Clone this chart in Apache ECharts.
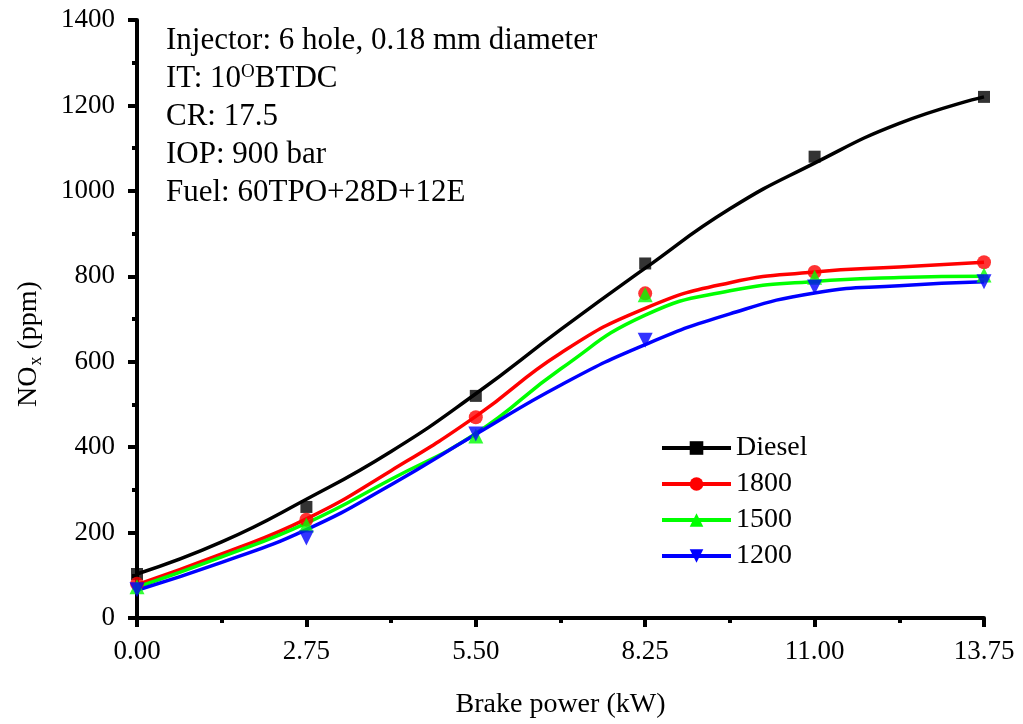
<!DOCTYPE html>
<html>
<head>
<meta charset="utf-8">
<script src="https://cdn.jsdelivr.net/npm/echarts@6/dist/echarts.min.js"></script>
<style>
html,body{margin:0;padding:0;background:#fff;}
#chart{width:1023px;height:724px;}
</style>
</head>
<body>
<div id="chart"></div>
<script>
// Measured points
const xPoints = [0, 2.75, 5.5, 8.25, 11, 13.75];
const dieselPts = [103, 260, 520, 830, 1080, 1220];
const pts1800 = [80, 230, 470, 760, 810, 833];
const pts1500 = [73, 218, 426, 757, 798, 803];
const pts1200 = [66, 187, 431, 650, 775, 787];

// Fitted curves
const xCurve = [0, 1.375, 2.75, 4.125, 5.5, 6.875, 8.25, 9.625, 11, 12.375, 13.75];
const dieselFit = [103, 178, 278, 390, 525, 675, 819, 958, 1065, 1158, 1220];
const fit1800 = [78, 150, 232, 345, 472, 620, 725, 785, 810, 822, 833];
const fit1500 = [72, 143, 222, 325, 432, 583, 709, 766, 788, 797, 800];
const fit1200 = [65, 130, 207, 312, 430, 545, 640, 712, 761, 778, 787];

const xTicks = [0, 2.75, 5.5, 8.25, 11, 13.75];
const legendNames = ['Diesel', '1800', '1500', '1200'];
const annotations = ['Injector: 6 hole, 0.18 mm diameter', 'IT: 10', 'CR: 17.5', 'IOP: 900 bar', 'Fuel: 60TPO+28D+12E'];

const FONT = '"Liberation Serif", "Times New Roman", serif';
const colors = ['#000000', '#ff0000', '#00ff00', '#0000ff'];
const symbols = ['rect', 'circle', 'triangle', 'triangle'];
const rotates = [0, 0, 0, 180];
const sizes = [12, 14, 15, 15];
const fits = [dieselFit, fit1800, fit1500, fit1200];
const pts = [dieselPts, pts1800, pts1500, pts1200];

const zip = (xs, ys) => xs.map((x, i) => [x, ys[i]]);

const series = [];
legendNames.forEach((name, i) => {
  series.push({
    name: name,
    type: 'line',
    data: zip(xCurve, fits[i]),
    smooth: true,
    showSymbol: false,
    symbol: symbols[i],
    symbolRotate: rotates[i],
    symbolSize: sizes[i],
    lineStyle: {color: colors[i], width: 3.5},
    itemStyle: {color: colors[i]},
    z: 2
  });
});
legendNames.forEach((name, i) => {
  series.push({
    name: name + ' data',
    type: 'scatter',
    data: zip(xPoints, pts[i]),
    symbol: symbols[i],
    symbolRotate: rotates[i],
    symbolSize: sizes[i],
    itemStyle: {color: colors[i]},
    z: 3
  });
});

const textStyleBase = {fontFamily: FONT, fontSize: 31, fill: '#000'};

const chart = echarts.init(document.getElementById('chart'));
chart.setOption({
  animation: false,
  backgroundColor: '#fff',
  grid: {left: 137, right: 39, top: 20, bottom: 106},
  legend: {
    data: legendNames,
    orient: 'vertical',
    left: 655,
    top: 429,
    itemWidth: 69,
    itemHeight: 17,
    itemGap: 8,
    lineStyle: {width: 4},
    textStyle: {fontFamily: FONT, fontSize: 28, color: '#000', padding: [0, 0, 0, 0]}
  },
  xAxis: {
    type: 'value',
    min: 0,
    max: 13.75,
    interval: 2.75,
    name: 'Brake power (kW)',
    nameLocation: 'middle',
    nameGap: 73,
    nameTextStyle: {fontFamily: FONT, fontSize: 28, color: '#000'},
    axisLine: {lineStyle: {color: '#000', width: 4}},
    axisTick: {show: true, inside: false, length: 9, lineStyle: {width: 4, color: '#000'}},
    minorTick: {show: true, splitNumber: 2, length: 5, lineStyle: {width: 4, color: '#000'}},
    splitLine: {show: false},
    axisLabel: {fontFamily: FONT, fontSize: 27, color: '#000', margin: 20,
      formatter: v => v.toFixed(2)}
  },
  yAxis: {
    type: 'value',
    min: 0,
    max: 1400,
    interval: 200,
    axisLine: {lineStyle: {color: '#000', width: 4}},
    axisTick: {show: true, inside: false, length: 9, lineStyle: {width: 4, color: '#000'}},
    minorTick: {show: true, splitNumber: 2, length: 5, lineStyle: {width: 4, color: '#000'}},
    splitLine: {show: false},
    axisLabel: {fontFamily: FONT, fontSize: 27, color: '#000', margin: 22,
      formatter: v => String(v)}
  },
  graphic: [
    {type: 'text', x: 29, y: 344, rotation: Math.PI / 2, style: {
      text: '{a|NO}{s|x}{a| (ppm)}',
      align: 'center', verticalAlign: 'middle',
      fontFamily: FONT, fontSize: 28, fill: '#000',
      rich: {
        a: {fontFamily: FONT, fontSize: 28, fill: '#000'},
        s: {fontFamily: FONT, fontSize: 18, fill: '#000', verticalAlign: 'bottom', padding: [14, 0, 0, 1]}
      }
    }},
    {type: 'text', left: 166, top: 25, style: Object.assign({text: annotations[0]}, textStyleBase)},
    {type: 'text', left: 166, top: 63, style: Object.assign({
      text: '{a|' + annotations[1] + '}{s|O}{a|BTDC}',
      rich: {
        a: {fontFamily: FONT, fontSize: 31, fill: '#000'},
        s: {fontFamily: FONT, fontSize: 19, fill: '#000', verticalAlign: 'top', padding: [0, 0, 12, 0]}
      }
    }, textStyleBase)},
    {type: 'text', left: 166, top: 101, style: Object.assign({text: annotations[2]}, textStyleBase)},
    {type: 'text', left: 166, top: 139, style: Object.assign({text: annotations[3]}, textStyleBase)},
    {type: 'text', left: 166, top: 177, style: Object.assign({text: annotations[4]}, textStyleBase)}
  ],
  series: series
});
</script>
</body>
</html>
